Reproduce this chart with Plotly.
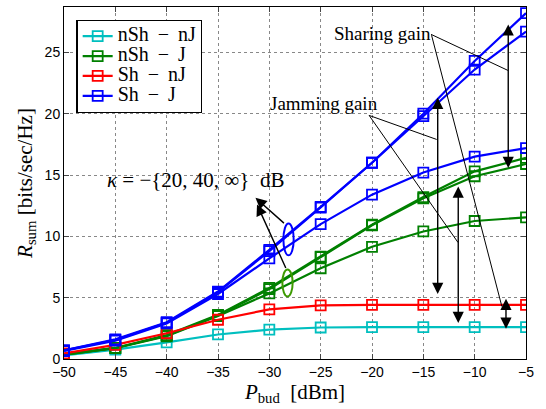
import plotly.graph_objects as go

# ---------------- data ----------------
p_bud = [-50, -45, -40, -35, -30, -25, -20, -15, -10, -5]

sh_j_inf = [0.7, 1.6, 3.0, 5.5, 8.9, 12.4, 16.0, 20.0, 24.3, 28.2]
sh_j_40 = [0.7, 1.55, 2.95, 5.45, 8.8, 12.35, 16.0, 19.8, 23.6, 26.7]
sh_j_20 = [0.65, 1.5, 2.9, 5.3, 8.2, 11.0, 13.4, 15.2, 16.5, 17.2]

nsh_j_inf = [0.35, 0.9, 1.95, 3.6, 5.8, 8.35, 10.95, 13.2, 15.3, 16.4]
nsh_j_40 = [0.35, 0.9, 1.9, 3.55, 5.7, 8.3, 10.9, 13.1, 14.9, 15.9]
nsh_j_20 = [0.35, 0.88, 1.85, 3.5, 5.35, 7.4, 9.15, 10.4, 11.25, 11.55]

sh_nj = [0.45, 1.15, 2.1, 3.2, 4.05, 4.38, 4.42, 4.42, 4.42, 4.42]
nsh_nj = [0.3, 0.76, 1.35, 2.0, 2.4, 2.57, 2.6, 2.6, 2.6, 2.6]

x_ticks = [-50, -45, -40, -35, -30, -25, -20, -15, -10, -5]
y_ticks = [0, 5, 10, 15, 20, 25]

C_CYAN = "#00BFBF"
C_GREEN = "#008000"
C_RED = "#FF0000"
C_BLUE = "#0000FF"

SERIF = "Liberation Serif"
SANS = "Liberation Sans"

fig = go.Figure()

SP = "\u00a0\u2009"


def big(t):
    t = t.replace(" − ", SP + "−" + SP)
    return '<span style="font-size:20px">' + t + '</span>'


def add(y, color, name, show):
    fig.add_trace(go.Scatter(
        x=p_bud, y=y, mode="lines+markers", name=big(name), showlegend=show,
        line=dict(color=color, width=2.2),
        marker=dict(symbol="square-open", size=10, color=color,
                    line=dict(width=1.8, color=color)),
    ))


add(nsh_nj, C_CYAN, "nSh − nJ", True)
add(nsh_j_inf, C_GREEN, "nSh − J", True)
add(nsh_j_40, C_GREEN, "nSh − J", False)
add(nsh_j_20, C_GREEN, "nSh − J", False)
add(sh_nj, C_RED, "Sh − nJ", True)
add(sh_j_inf, C_BLUE, "Sh − J", True)
add(sh_j_40, C_BLUE, "Sh − J", False)
add(sh_j_20, C_BLUE, "Sh − J", False)

# ---------------- annotations ----------------
ann = []


def text(x, y, t, size=19):
    ann.append(dict(x=x, y=y, xref="x", yref="y", text=t, showarrow=False,
                    font=dict(family=SERIF, size=size, color="black")))


def arrow(x_head, y_head, x_tail, y_tail, both=False):
    ann.append(dict(x=x_head, y=y_head, ax=x_tail, ay=y_tail,
                    xref="x", yref="y", axref="x", ayref="y", text="",
                    showarrow=True, arrowhead=2, arrowsize=1.6, arrowwidth=1.4,
                    arrowcolor="black",
                    arrowside="end+start" if both else "end",
                    startarrowhead=2, startarrowsize=1.6))


text(-19.0, 26.55, "Sharing gain")
text(-24.66, 20.8, "Jamming gain")
text(-37.2, 14.6, "<i>κ</i> = −{20, 40, ∞}  dB", size=21)

arrow(-13.6, 21.3, -13.6, 5.18, both=True)
arrow(-11.6, 14.07, -11.6, 2.81, both=True)
arrow(-6.73, 27.28, -6.73, 15.46, both=True)
arrow(-6.95, 4.91, -6.95, 2.35, both=True)

arrow(-31.35, 13.15, -28.43, 10.97)
arrow(-31.2, 12.6, -28.33, 7.3)

shapes = []


def seg(x0, y0, x1, y1):
    shapes.append(dict(type="line", xref="x", yref="y", x0=x0, y0=y0,
                       x1=x1, y1=y1, line=dict(color="black", width=1)))


seg(-14.25, 26.47, -6.76, 23.53)
seg(-14.2, 26.4, -7.35, 4.28)
seg(-20.28, 19.86, -13.7, 17.9)
seg(-20.28, 19.86, -11.62, 9.5)

shapes.append(dict(type="circle", xref="x", yref="y",
                   x0=-28.13 - 0.5, x1=-28.13 + 0.5, y0=9.75 - 1.3, y1=9.75 + 1.3,
                   line=dict(color=C_BLUE, width=2)))
shapes.append(dict(type="circle", xref="x", yref="y",
                   x0=-28.23 - 0.5, x1=-28.23 + 0.5, y0=6.2 - 1.1, y1=6.2 + 1.1,
                   line=dict(color="#3C9A00", width=2)))

fig.update_layout(
    width=546, height=409,
    margin=dict(l=64, r=20, t=7, b=50),
    paper_bgcolor="white", plot_bgcolor="white",
    showlegend=True,
    legend=dict(x=0.027, y=0.963, xanchor="left", yanchor="top",
                bgcolor="white", bordercolor="black", borderwidth=1.2,
                font=dict(family=SERIF, size=13, color="black"),
                tracegroupgap=0, itemwidth=30),
    annotations=ann, shapes=shapes,
    xaxis=dict(range=[-50, -5], tickvals=x_ticks, ticks="inside", ticklen=5,
               showline=True, linecolor="black", linewidth=1, mirror="ticks",
               showgrid=True, gridcolor="#888", griddash="dot", gridwidth=1,
               zeroline=False,
               tickfont=dict(family=SANS, size=14, color="black"),
               title=dict(text="<i>P</i><sub>bud</sub>  [dBm]", standoff=2,
                          font=dict(family=SERIF, size=21, color="black"))),
    yaxis=dict(range=[0, 28.7], tickvals=y_ticks, ticks="inside", ticklen=5,
               showline=True, linecolor="black", linewidth=1, mirror="ticks",
               showgrid=True, gridcolor="#888", griddash="dot", gridwidth=1,
               zeroline=False,
               tickfont=dict(family=SANS, size=14, color="black"),
               title=dict(text="<i>R</i><sub>sum</sub> [bits/sec/Hz]", standoff=6,
                          font=dict(family=SERIF, size=21, color="black"))),
)

fig.write_html("out.html")
